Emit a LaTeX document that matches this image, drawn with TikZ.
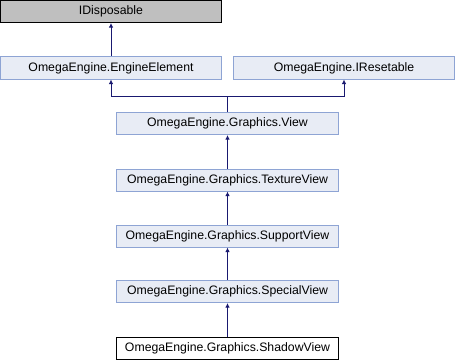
\documentclass[tikz,border=0pt]{standalone}
\usepackage{fontspec}
\setmainfont{Liberation Sans}
\usetikzlibrary{arrows.meta}
\definecolor{clsfill}{HTML}{E8ECF5}
\definecolor{clsline}{HTML}{8EA4D4}
\definecolor{extfill}{HTML}{BFBFBF}
\definecolor{edgecol}{HTML}{191970}
\tikzset{
  cls/.style={draw=clsline, fill=clsfill, line width=0.75pt, rectangle,
    minimum width=165.75pt, minimum height=16.5pt, inner sep=0pt,
    font=\fontsize{9.2pt}{11pt}\selectfont},
  extcls/.style={cls, draw=black, fill=extfill},
  leafcls/.style={cls, draw=black, fill=white},
  chaincls/.style={cls, minimum width=166.5pt},
  inherit/.style={draw=edgecol, line width=0.75pt,
    {Latex[length=3.4pt,width=3.4pt]}-},
}
\begin{document}
\begin{tikzpicture}[x=0.75pt,y=-0.75pt]
  \useasboundingbox (0,0) rectangle (456,360);
  \node[extcls]  (idisp)   at (111,11.5)  {IDisposable};
  \node[cls]     (engel)   at (111,68)    {OmegaEngine.EngineElement};
  \node[cls]     (ireset)  at (344,68)    {OmegaEngine.IResetable};
  \node[chaincls] (view)     at (227.5,123.5) {OmegaEngine.Graphics.View};
  \node[chaincls] (texview)  at (227.5,180)   {OmegaEngine.Graphics.TextureView};
  \node[chaincls] (supview)  at (227.5,236)   {OmegaEngine.Graphics.SupportView};
  \node[chaincls] (specview) at (227.5,291.5) {OmegaEngine.Graphics.SpecialView};
  \node[chaincls, draw=black, fill=white] (shadview) at (227.5,348) {OmegaEngine.Graphics.ShadowView};

  \coordinate (join) at (227,96.5);
  \draw[inherit] (idisp) -- (engel);
  \draw[inherit] (engel.south) |- (join) -- (join |- view.north);
  \draw[inherit] (ireset.south) |- (join);
  \draw[inherit] (view) -- (texview);
  \draw[inherit] (texview) -- (supview);
  \draw[inherit] (supview) -- (specview);
  \draw[inherit] (specview) -- (shadview);
\end{tikzpicture}
\end{document}
